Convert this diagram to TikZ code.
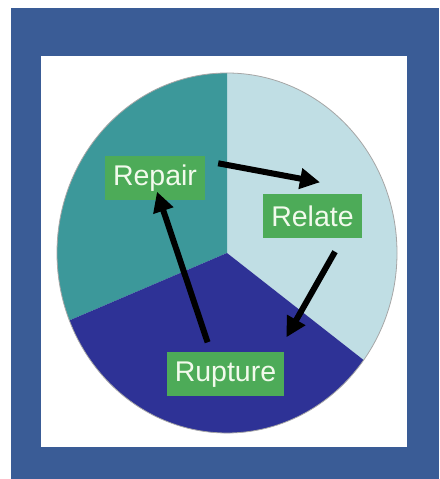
\documentclass[tikz,border=0pt]{standalone}
\usepackage{fontspec}
\setmainfont{Liberation Sans}
\usepackage{tikz}
\usetikzlibrary{positioning, arrows.meta}
\definecolor{FrameBlue}{RGB}{58,92,150}
\definecolor{PieTeal}{RGB}{60,152,154}
\definecolor{PieLight}{RGB}{192,222,228}
\definecolor{PieNavy}{RGB}{46,50,150}
\definecolor{TagGreen}{RGB}{77,171,88}
\definecolor{TagText}{RGB}{242,250,236}

\begin{document}
\begin{tikzpicture}[x=1pt, y=1pt,
          tag/.style={rectangle, fill=TagGreen, text=TagText, minimum height=44pt,
                      inner xsep=8pt, font=\fontsize{28.5}{30}\selectfont},
          arr/.style={-{Triangle[length=20pt, width=20pt]}, line width=6pt, draw=black}
        ]
        % frame
        \useasboundingbox (0,0) rectangle (439,479);
        \fill[white] (0,0) rectangle (439,479);
        \fill[FrameBlue] (11,0) rectangle (439,471);
        \fill[white] (41,32) rectangle (407,423);

        % pie
        \coordinate (c) at (227,226);
        \fill[PieLight] (c) -- ++(0,180)
              arc[start angle=90, end angle=-36.5, x radius=170, y radius=180] -- cycle;
        \fill[PieTeal] (c) -- ++(0,180)
              arc[start angle=90, end angle=202, x radius=170, y radius=180] -- cycle;
        \fill[PieNavy] (c) -- ([shift={(202:170 and 180)}]c)
              arc[start angle=202, end angle=323.5, x radius=170, y radius=180] -- cycle;
        \draw[gray!70, line width=0.8pt] (c) ellipse[x radius=170, y radius=180];

        % labels
        \node[tag] (repair)  at (155,300.5) {Repair};
        \node[tag] (relate)  at (312.5,262.5) {Relate};
        \node[tag] (rupture) at (225.5,104.5) {Rupture};

        % cycle
        \draw[arr] ([shift={(13,-7)}]repair.north east) -- ([shift={(7.5,12)}]relate.north);
        \draw[arr] ([shift={(22.5,-13)}]relate.south) -- ([shift={(2,15)}]rupture.north east);
        \draw[arr] ([shift={(41,10)}]rupture.north west) -- ([shift={(2,9)}]repair.south);
      \end{tikzpicture}
\end{document}
